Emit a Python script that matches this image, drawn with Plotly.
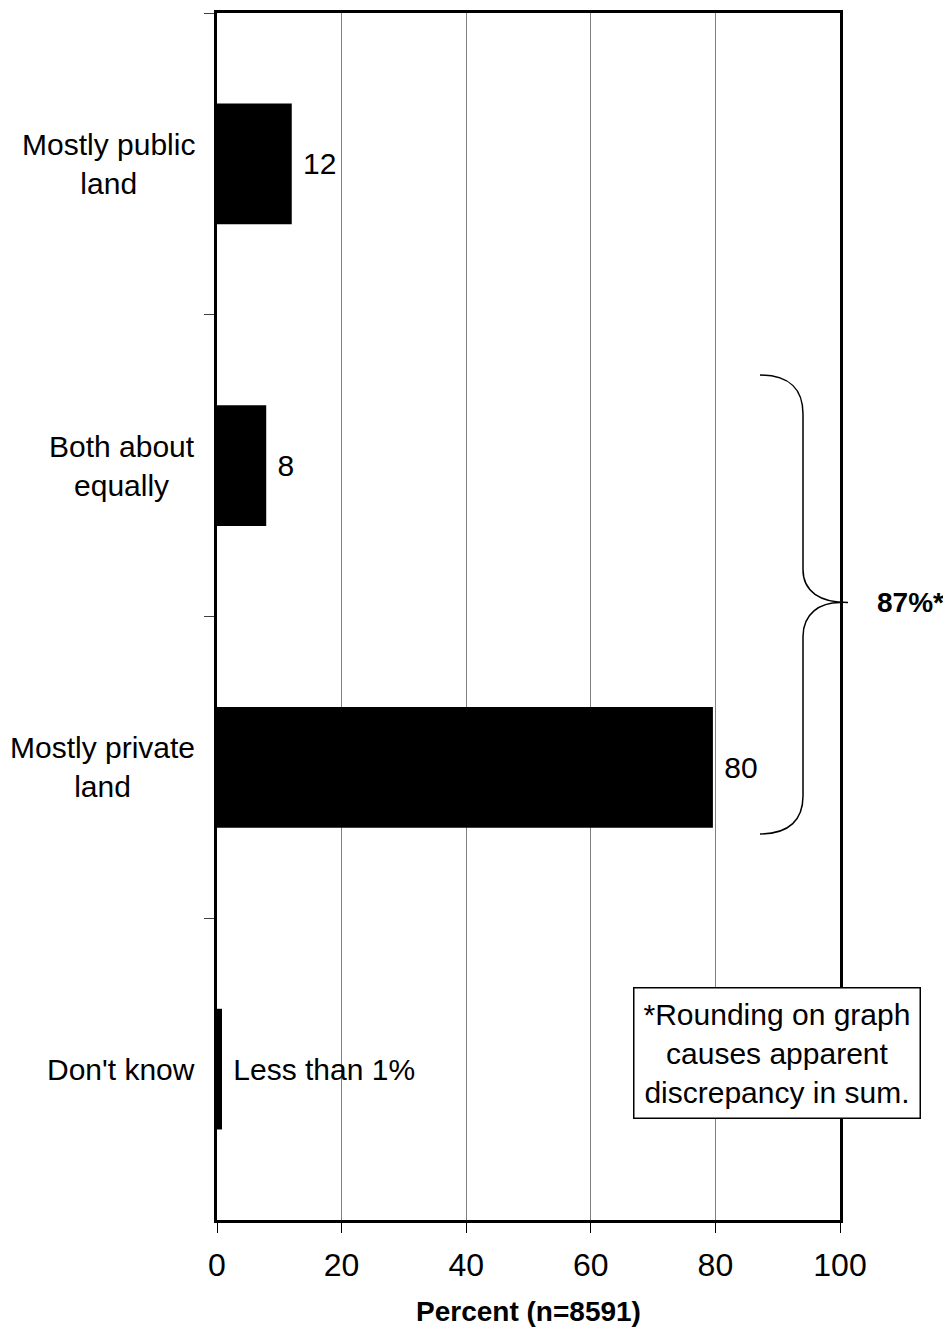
import plotly.graph_objects as go

categories = ["Mostly public land", "Both about equally", "Mostly private land", "Don't know"]
category_labels = ["Mostly public<br>land", "Both about<br>equally", "Mostly private<br>land", "Don't know"]
values = [12, 7.9, 79.6, 0.8]
value_labels = ["\u00a012", "\u00a08", "\u00a080", "\u00a0Less than 1%"]
x_ticks = [0, 20, 40, 60, 80, 100]

FONT = "Liberation Sans, Arial, sans-serif"
OFF = 8  # default page body margin
W, H = 951 - OFF, 1334 - OFF
L, T = 217 - OFF, 10 - OFF
PW, PH = 623, 1210
R, B = W - L - PW, H - T - PH


def px(x):
    return (x - OFF - L) / PW


def py(y):
    return 1 - (y - OFF - T) / PH


fig = go.Figure()
fig.add_trace(go.Bar(
    y=categories, x=values, orientation="h",
    marker=dict(color="black", line=dict(width=0)),
    width=0.4,
    text=value_labels, textposition="outside",
    textfont=dict(family=FONT, size=30, color="black"),
    cliponaxis=False,
))

annotations = []
for cat, lab in zip(categories, category_labels):
    annotations.append(dict(
        x=0, xref="paper", y=cat, yref="y", text=lab, showarrow=False,
        xanchor="right", yanchor="middle", align="center", xshift=-20,
        font=dict(family=FONT, size=30, color="black"),
    ))

annotations.append(dict(
    x=px(875), xref="paper", y=py(601), yref="paper", text="<b>87%*</b>",
    showarrow=False, xanchor="left", yanchor="middle",
    font=dict(family=FONT, size=28, color="black"),
))
annotations.append(dict(
    x=px(777), xref="paper", y=py(1053), yref="paper",
    text="*Rounding on graph<br>causes apparent<br>discrepancy in sum.",
    showarrow=False, xanchor="center", yanchor="middle", align="center",
    bordercolor="black", borderwidth=1.5, borderpad=9, bgcolor="white",
    font=dict(family=FONT, size=30, color="black"),
))

# brace
def P(x, y):
    return f"{px(x):.5f},{py(y):.5f}"

brace = (
    f"M {P(760, 373)} C {P(790, 373)} {P(803, 388)} {P(803, 412)} "
    f"L {P(803, 568)} C {P(803, 590)} {P(820, 601)} {P(848, 601)} "
    f"M {P(840, 601)} C {P(820, 601)} {P(803, 612)} {P(803, 635)} "
    f"L {P(803, 795)} C {P(803, 818)} {P(790, 833)} {P(760, 833)}"
)
shapes = [dict(type="path", xref="paper", yref="paper", path=brace,
               line=dict(color="black", width=1.5))]

fig.update_layout(
    width=W, height=H,
    margin=dict(l=L, r=R, t=T, b=B, pad=0),
    paper_bgcolor="white", plot_bgcolor="white",
    showlegend=False,
    bargap=0.6,
    annotations=annotations,
    shapes=shapes,
    xaxis=dict(
        range=[0, 100], tickvals=x_ticks, ticktext=[str(v) for v in x_ticks],
        showgrid=True, gridcolor="#808080", gridwidth=1,
        showline=True, linecolor="black", linewidth=2.5, mirror=True,
        ticks="outside", ticklen=10, tickcolor="black", tickwidth=1,
        ticklabelstandoff=5,
        tickfont=dict(family=FONT, size=32, color="black"),
        title=dict(text="<b>Percent (n=8591)</b>", standoff=20,
                   font=dict(family=FONT, size=28, color="black")),
        zeroline=False,
    ),
    yaxis=dict(
        categoryorder="array", categoryarray=categories, autorange="reversed",
        showticklabels=False, showgrid=False,
        showline=True, linecolor="black", linewidth=2.5, mirror=True,
        ticks="outside", ticklen=10, tickcolor="#404040", tickwidth=1,
        tickson="boundaries",
    ),
)

fig.write_html("out.html")
